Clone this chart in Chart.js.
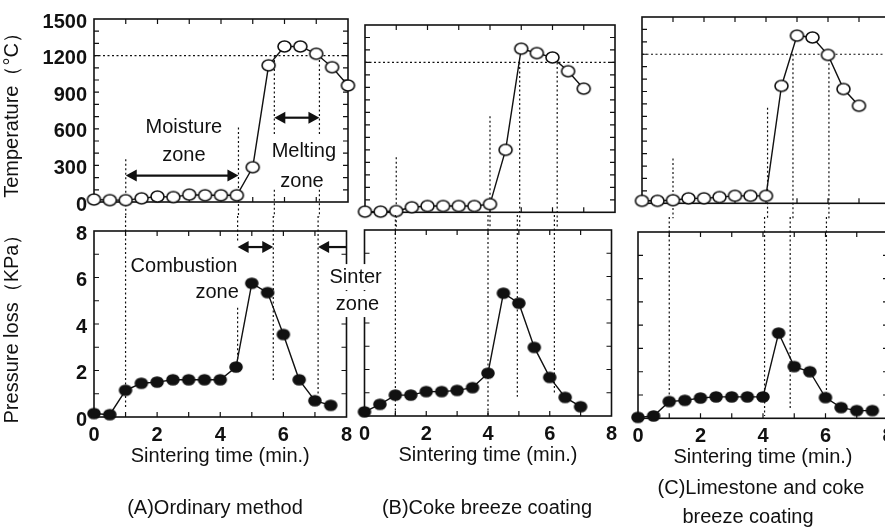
<!DOCTYPE html>
<html>
<head>
<meta charset="utf-8">
<title>Sintering zones - temperature and pressure loss</title>
<script src="https://cdn.jsdelivr.net/npm/chart.js@4.4.1/dist/chart.umd.min.js"></script>
<style>
  html, body { margin: 0; padding: 0; background: #fff; overflow: hidden; width: 885px; height: 530px; }
  canvas { position: absolute; left: 0; top: 0; }
  .cap { position: absolute; transform: translate(-50%, -50%); white-space: nowrap;
         font: 20px "Liberation Sans", Arial, sans-serif; color: #111; }
</style>
</head>
<body>
<canvas id="cT" width="900" height="530"></canvas>
<canvas id="cP" width="900" height="530"></canvas>
<canvas id="bT" width="900" height="530"></canvas>
<canvas id="bP" width="900" height="530"></canvas>
<canvas id="aT" width="900" height="530"></canvas>
<canvas id="aP" width="900" height="530"></canvas>

<div class="cap" style="left:215px; top:507px">(A)Ordinary method</div>
<div class="cap" style="left:487px; top:507px">(B)Coke breeze coating</div>
<div class="cap" style="left:761px; top:487px">(C)Limestone and coke</div>
<div class="cap" style="left:748px; top:516px">breeze coating</div>

<script>
// ---- data ----
// sintering time (min.)
const timeA_T = [0, 0.5, 1, 1.5, 2, 2.5, 3, 3.5, 4, 4.5, 5, 5.5, 6, 6.5, 7, 7.5, 8];
const timeA_P = [0, 0.5, 1, 1.5, 2, 2.5, 3, 3.5, 4, 4.5, 5, 5.5, 6, 6.5, 7, 7.5];
const timeB   = [0, 0.5, 1, 1.5, 2, 2.5, 3, 3.5, 4, 4.5, 5, 5.5, 6, 6.5, 7];
const timeC_T = [0, 0.5, 1, 1.5, 2, 2.5, 3, 3.5, 4, 4.5, 5, 5.5, 6, 6.5, 7];
const timeC_P = [0, 0.5, 1, 1.5, 2, 2.5, 3, 3.5, 4, 4.5, 5, 5.5, 6, 6.5, 7, 7.5];

// temperature (°C)
const tempA = [20, 15, 15, 30, 45, 40, 60, 55, 55, 55, 285, 1120, 1275, 1275, 1215, 1105, 955];
const tempB = [5, 5, 10, 40, 50, 50, 50, 50, 65, 500, 1310, 1275, 1240, 1130, 990];
const tempC = [20, 20, 25, 40, 40, 50, 60, 60, 60, 945, 1350, 1335, 1195, 920, 785];

// pressure loss (KPa)
const presA = [0.15, 0.1, 1.15, 1.45, 1.5, 1.6, 1.6, 1.6, 1.6, 2.15, 5.75, 5.35, 3.55, 1.6, 0.7, 0.5];
const presB = [0.18, 0.5, 0.9, 0.9, 1.05, 1.05, 1.1, 1.22, 1.84, 5.28, 4.85, 2.95, 1.66, 0.8, 0.4];
const presC = [0.04, 0.1, 0.72, 0.77, 0.87, 0.92, 0.92, 0.92, 0.92, 3.66, 2.22, 2.0, 0.89, 0.46, 0.33, 0.33];

// tick labels
const timeTicks = [0, 2, 4, 6, 8];
const tempTicks = [0, 300, 600, 900, 1200, 1500];
const presTicks = [0, 2, 4, 6, 8];

// zone boundaries: [time, from, to]  (null = run on into the gap between panels)
const guidesA_T = [[1.0, 350, null], [4.55, 610, null], [5.68, 1200, 540], [5.68, 100, null], [7.1, 1200, 540], [7.1, 100, null]];
const guidesA_P = [[1.0, null, 0.4], [4.55, null, 7.5], [4.55, 4.7, 2.3], [5.68, null, 1.5], [7.1, null, 0.95]];
const guidesB_T = [[1.0, 440, null], [4.0, 770, null], [4.95, 1200, null], [6.15, 1200, null]];
const guidesB_P = [[1.0, null, 0], [4.0, null, 0], [4.95, null, 0.83], [6.15, null, 1.0]];
const guidesC_T = [[1.0, 360, null], [4.05, 770, null], [4.87, 1200, null], [6.03, 1200, null]];
const guidesC_P = [[1.0, null, 0.93], [4.05, null, 0.1], [4.87, null, 0.35], [6.03, null, 0.93]];

// ---- layout ----
const W = 900, H = 530, XAXIS_H = 51;
const INK = '#111';
const FONT = '"Liberation Sans", Arial, sans-serif';
Chart.defaults.font.family = FONT;
Chart.defaults.font.size = 20;
Chart.defaults.color = INK;

// plot boxes in page pixels
const boxes = {
  aT: { l: 94,    r: 348,   t: 15.4, b: 202 },
  aP: { l: 94,    r: 346.5, t: 231,  b: 417 },
  bT: { l: 365,   r: 615,   t: 25,   b: 212.3 },
  bP: { l: 364.5, r: 611.5, t: 230,  b: 416 },
  cT: { l: 642,   r: 890,   t: 17,   b: 203.3 },
  cP: { l: 638,   r: 888,   t: 232,  b: 418.3 }
};

function marker(w, h, filled) {
  const c = document.createElement('canvas');
  c.width = w + 4; c.height = h + 4;
  const g = c.getContext('2d');
  g.beginPath();
  g.ellipse(c.width / 2, c.height / 2, w / 2, h / 2, 0, 0, Math.PI * 2);
  g.fillStyle = filled ? INK : '#fff';
  g.fill();
  g.lineWidth = 1.6; g.strokeStyle = INK; g.stroke();
  return c;
}
const openDot = marker(13, 11, false);
const fullDot = marker(12, 10, true);

function arrow(ctx, x1, x2, y, heads) {
  const L = 11, HW = 6;
  const left = heads === 'both' || heads === 'left';
  const right = heads === 'both' || heads === 'right';
  ctx.lineWidth = 2.2;
  ctx.beginPath();
  ctx.moveTo(left ? x1 + L - 1 : x1, y);
  ctx.lineTo(right ? x2 - L + 1 : x2, y);
  ctx.stroke();
  if (left) { ctx.beginPath(); ctx.moveTo(x1, y); ctx.lineTo(x1 + L, y - HW); ctx.lineTo(x1 + L, y + HW); ctx.closePath(); ctx.fill(); }
  if (right) { ctx.beginPath(); ctx.moveTo(x2, y); ctx.lineTo(x2 - L, y - HW); ctx.lineTo(x2 - L, y + HW); ctx.closePath(); ctx.fill(); }
}

// frame with inward ticks, dotted guides, arrows and zone names
const panelDecor = {
  id: 'panelDecor',
  beforeDatasetsDraw(chart, args, o) {
    const { ctx, chartArea: a } = chart;
    const x = chart.scales.x, y = chart.scales.y;
    ctx.save();
    ctx.strokeStyle = INK;

    // dotted guides
    ctx.setLineDash([2, 2.5]);
    ctx.lineWidth = 1.2;
    ctx.beginPath();
    if (o.hLine != null) {
      const py = y.getPixelForValue(o.hLine);
      ctx.moveTo(a.left, py); ctx.lineTo(a.right, py);
    }
    (o.guides || []).forEach(([t, v1, v2]) => {
      const px = x.getPixelForValue(t);
      ctx.moveTo(px, v1 == null ? a.top - 15 : y.getPixelForValue(v1));
      ctx.lineTo(px, v2 == null ? a.bottom + 15 : y.getPixelForValue(v2));
    });
    ctx.stroke();
    ctx.setLineDash([]);

    // inward ticks on all four sides
    ctx.lineWidth = 1.2;
    ctx.beginPath();
    const nx = Math.round((x.max - x.min) / o.xMinor);
    for (let i = 1; i < nx; i++) {
      const px = x.getPixelForValue(x.min + i * o.xMinor);
      ctx.moveTo(px, a.top); ctx.lineTo(px, a.top + 5);
      ctx.moveTo(px, a.bottom); ctx.lineTo(px, a.bottom - 5);
    }
    const ny = Math.round((y.max - y.min) / o.yMinor);
    for (let i = 1; i < ny; i++) {
      const py = y.getPixelForValue(y.min + i * o.yMinor);
      ctx.moveTo(a.left, py); ctx.lineTo(a.left + 5, py);
      ctx.moveTo(a.right, py); ctx.lineTo(a.right - 5, py);
    }
    ctx.stroke();

    ctx.lineWidth = 1.6;
    ctx.strokeRect(a.left, a.top, a.right - a.left, a.bottom - a.top);
    ctx.restore();
  },
  afterDraw(chart, args, o) {
    const { ctx } = chart;
    const x = chart.scales.x, y = chart.scales.y;
    ctx.save();
    ctx.strokeStyle = INK; ctx.fillStyle = INK;
    (o.arrows || []).forEach(([t1, t2, v, heads]) => {
      arrow(ctx, x.getPixelForValue(t1), x.getPixelForValue(t2), y.getPixelForValue(v), heads);
    });
    ctx.font = '20px ' + FONT;
    ctx.textAlign = 'center';
    ctx.textBaseline = 'alphabetic';
    (o.labels || []).forEach(([text, t, v, boxed]) => {
      const px = x.getPixelForValue(t), py = y.getPixelForValue(v);
      if (boxed) {
        const w = ctx.measureText(text).width + 6;
        ctx.fillStyle = '#fff';
        ctx.fillRect(px - w / 2, py - 19, w, 26);
        ctx.fillStyle = INK;
      }
      ctx.fillText(text, px, py);
    });
    ctx.restore();
  }
};

function panel(id, cfg) {
  const box = boxes[id];
  const yw = cfg.yTitle ? box.l : 0;
  const xh = cfg.xAxis ? XAXIS_H : 0;
  const pts = cfg.times.map((t, i) => ({ x: t, y: cfg.values[i] }));
  return new Chart(document.getElementById(id), {
    type: 'line',
    data: {
      datasets: [{
        data: pts,
        borderColor: INK, borderWidth: 1.4, tension: 0, clip: false,
        pointStyle: cfg.filled ? fullDot : openDot, pointRadius: 6
      }]
    },
    options: {
      responsive: false, animation: false, events: [],
      layout: { padding: { left: box.l - yw, top: box.t, right: W - box.r, bottom: H - box.b - xh } },
      plugins: { legend: { display: false }, tooltip: { enabled: false }, panelDecor: cfg.decor },
      scales: {
        x: {
          type: 'linear', min: 0, max: 8, display: !!cfg.xAxis,
          grid: { display: false, drawTicks: false }, border: { display: false },
          afterBuildTicks: s => { s.ticks = timeTicks.map(v => ({ value: v })); },
          afterFit: s => { s.height = xh; },
          ticks: { padding: 6, maxRotation: 0, font: { weight: 'bold' }, callback: v => String(v) },
          title: { display: !!cfg.xAxis, text: 'Sintering time (min.)', padding: 0 }
        },
        y: {
          type: 'linear', min: 0, max: cfg.yMax, display: !!cfg.yTitle,
          grid: { display: false, drawTicks: false }, border: { display: false },
          afterBuildTicks: s => { s.ticks = cfg.yTicks.map(v => ({ value: v })); },
          afterFit: s => { s.width = yw; },
          ticks: { padding: 7, labelOffset: 3, font: { weight: 'bold' }, callback: v => String(v) },
          title: { display: !!cfg.yTitle, text: cfg.yTitle, padding: { top: 0, bottom: 0 } }
        }
      }
    },
    plugins: [panelDecor]
  });
}

panel('cT', { times: timeC_T, values: tempC, yMax: 1500, yTicks: tempTicks,
  decor: { xMinor: 1, yMinor: 100, hLine: 1200, guides: guidesC_T } });
panel('cP', { times: timeC_P, values: presC, yMax: 8, yTicks: presTicks, filled: true, xAxis: true,
  decor: { xMinor: 1, yMinor: 1, guides: guidesC_P } });
panel('bT', { times: timeB, values: tempB, yMax: 1500, yTicks: tempTicks,
  decor: { xMinor: 1, yMinor: 100, hLine: 1200, guides: guidesB_T } });
panel('bP', { times: timeB, values: presB, yMax: 8, yTicks: presTicks, filled: true, xAxis: true,
  decor: { xMinor: 1, yMinor: 1, guides: guidesB_P } });
panel('aT', { times: timeA_T, values: tempA, yMax: 1500, yTicks: tempTicks, yTitle: 'Temperature（°C）',
  decor: {
    xMinor: 1, yMinor: 100, hLine: 1200, guides: guidesA_T,
    arrows: [[1.0, 4.55, 217, 'both'], [5.68, 7.1, 691, 'both']],
    labels: [['Moisture', 2.83, 563], ['zone', 2.83, 338], ['Melting', 6.61, 366], ['zone', 6.55, 121]]
  } });
panel('aP', { times: timeA_P, values: presA, yMax: 8, yTicks: presTicks, filled: true, xAxis: true,
  yTitle: 'Pressure loss（KPa）',
  decor: {
    xMinor: 1, yMinor: 1, guides: guidesA_P,
    arrows: [[4.55, 5.68, 7.31, 'both'], [7.1, 8, 7.31, 'left']],
    labels: [['Combustion', 2.85, 6.24], ['zone', 3.9, 5.12], ['Sinter', 8.29, 5.76, true], ['zone', 8.35, 4.6, true]]
  } });
</script>
</body>
</html>
